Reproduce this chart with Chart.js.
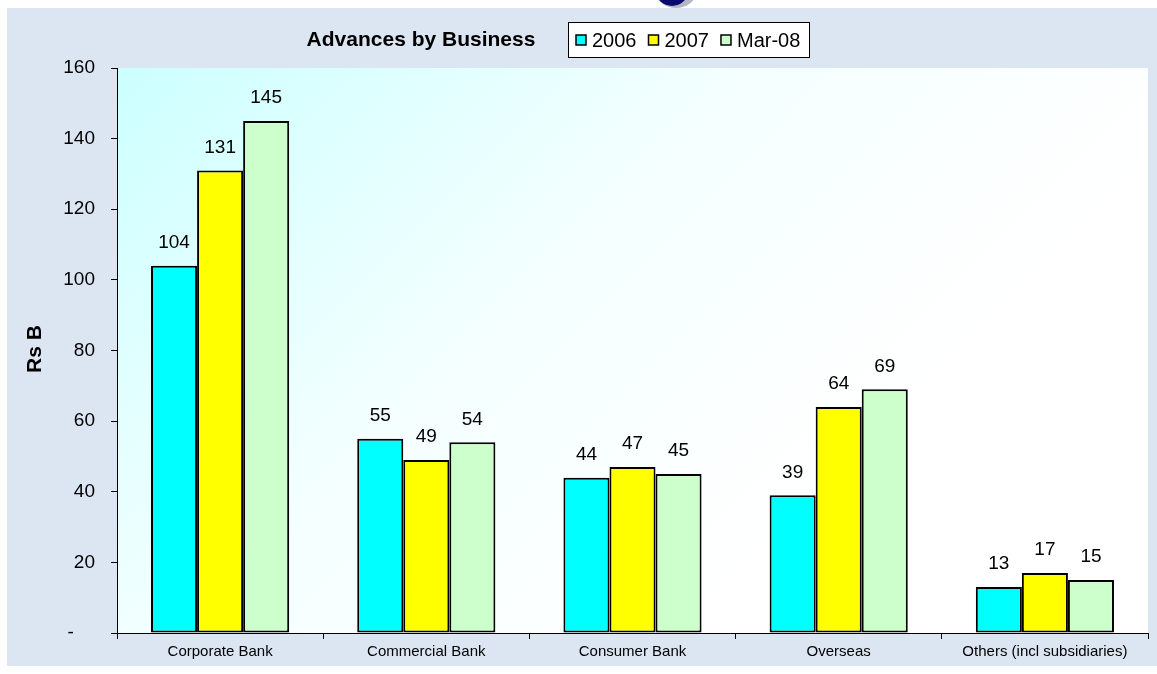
<!DOCTYPE html>
<html>
<head>
<meta charset="utf-8">
<script src="https://cdn.jsdelivr.net/npm/chart.js@4.4.1/dist/chart.umd.min.js"></script>
<style>
  html, body { margin: 0; padding: 0; background: #fff; overflow: hidden; }
  #wrap { width: 1157px; height: 674px; position: relative; }
</style>
</head>
<body>
<div id="wrap"><canvas id="chart_1" width="1157" height="674"></canvas></div>
<script>
// ==== DATA ====
const categories = ['Corporate Bank', 'Commercial Bank', 'Consumer Bank', 'Overseas', 'Others (incl subsidiaries)'];
const series2006 = [104, 55, 44, 39, 13];
const series2007 = [131, 49, 47, 64, 17];
const seriesMar08 = [145, 54, 45, 69, 15];
const seriesNames = ['2006', '2007', 'Mar-08'];
const yTicks = [0, 20, 40, 60, 80, 100, 120, 140, 160];

const FONT = 'Liberation Sans, Arial, sans-serif';
const colors = ['#00ffff', '#ffff00', '#ccffcc'];

// background, plot gradient, logo scrap
const backdrop = {
    id: 'backdrop',
    beforeDraw(chart) {
        const { ctx, chartArea: a } = chart;
        ctx.save();
        ctx.fillStyle = '#ffffff';
        ctx.fillRect(0, 0, chart.width, chart.height);
        ctx.fillStyle = '#dce6f3';
        ctx.fillRect(7, 8, chart.width - 7, 658);

        // logo fragment at the top
        ctx.beginPath();
        ctx.rect(0, 0, chart.width, 8);
        ctx.clip();
        ctx.beginPath();
        ctx.ellipse(676, -8, 20, 16, 0, 0, Math.PI * 2);
        ctx.fillStyle = '#b4b8c4';
        ctx.fill();
        ctx.beginPath();
        ctx.ellipse(672, -9, 16, 15, 0, 0, Math.PI * 2);
        ctx.fillStyle = '#0a0a6e';
        ctx.fill();
        ctx.restore();

        ctx.save();
        const g = ctx.createLinearGradient(a.left, a.top, a.left + a.width * 0.55, a.bottom);
        g.addColorStop(0, '#ccffff');
        g.addColorStop(0.55, '#f4ffff');
        g.addColorStop(1, '#ffffff');
        ctx.fillStyle = g;
        ctx.fillRect(a.left, a.top, a.right - a.left, a.bottom - a.top);

        // y axis title
        ctx.translate(35, 349);
        ctx.rotate(-Math.PI / 2);
        ctx.fillStyle = '#000';
        ctx.font = 'bold 21px ' + FONT;
        ctx.textAlign = 'center';
        ctx.textBaseline = 'middle';
        ctx.fillText('Rs B', 0, 0);
        ctx.restore();
    }
};

// title, legend box and value labels
const extras = {
    id: 'extras',
    afterDatasetsDraw(chart) {
        const { ctx } = chart;
        ctx.save();
        ctx.fillStyle = '#000';
        ctx.textAlign = 'center';
        ctx.textBaseline = 'middle';
        ctx.font = '19px ' + FONT;
        chart.data.datasets.forEach((ds, i) => {
            chart.getDatasetMeta(i).data.forEach((bar, j) => {
                ctx.fillText(String(ds.data[j]), bar.x, bar.y - 23);
            });
        });

        ctx.font = 'bold 21px ' + FONT;
        ctx.fillText('Advances by Business', 421, 40);

        // legend
        ctx.fillStyle = '#fff';
        ctx.fillRect(568, 22, 242, 36);
        ctx.strokeStyle = '#000';
        ctx.lineWidth = 1;
        ctx.strokeRect(568.5, 22.5, 241, 35);
        ctx.font = '20px ' + FONT;
        ctx.textAlign = 'left';
        let x = 576;
        chart.data.datasets.forEach((ds) => {
            ctx.fillStyle = ds.backgroundColor;
            ctx.fillRect(x, 35, 10, 10);
            ctx.lineWidth = 1.5;
            ctx.strokeRect(x, 35, 10, 10);
            ctx.fillStyle = '#000';
            ctx.fillText(ds.label, x + 16, 41);
            x += 16 + ctx.measureText(ds.label).width + 12;
        });
        ctx.restore();
    }
};

new Chart(document.getElementById('chart_1'), {
    type: 'bar',
    data: {
        labels: categories,
        datasets: [
            { label: seriesNames[0], data: series2006, backgroundColor: colors[0] },
            { label: seriesNames[1], data: series2007, backgroundColor: colors[1] },
            { label: seriesNames[2], data: seriesMar08, backgroundColor: colors[2] }
        ].map(d => Object.assign(d, {
            borderColor: '#000',
            borderWidth: 2,
            borderSkipped: false,
            barPercentage: 1,
            categoryPercentage: 0.67
        }))
    },
    options: {
        responsive: false,
        animation: false,
        devicePixelRatio: 1,
        layout: { padding: { top: 68, right: 9, left: 0, bottom: 0 } },
        plugins: {
            legend: { display: false },
            title: { display: false },
            tooltip: { enabled: false }
        },
        scales: {
            x: {
                grid: { drawOnChartArea: false, tickLength: 6, color: '#000', offset: true },
                border: { color: '#000', width: 1 },
                ticks: {
                    color: '#000',
                    padding: 4,
                    maxRotation: 0,
                    autoSkip: false,
                    font: { family: FONT, size: 15 }
                },
                afterFit(scale) { scale.height = 41; }
            },
            y: {
                min: 0,
                max: 160,
                afterBuildTicks(scale) { scale.ticks = yTicks.map(v => ({ value: v })); },
                grid: { drawOnChartArea: false, tickLength: 6, color: '#000' },
                border: { color: '#000', width: 1 },
                ticks: {
                    color: '#000',
                    padding: 16,
                    font: { family: FONT, size: 19 },
                    callback: v => (v === 0 ? '-    ' : String(v))
                },
                afterFit(scale) { scale.width = 117; }
            }
        }
    },
    plugins: [backdrop, extras]
});
</script>
</body>
</html>
